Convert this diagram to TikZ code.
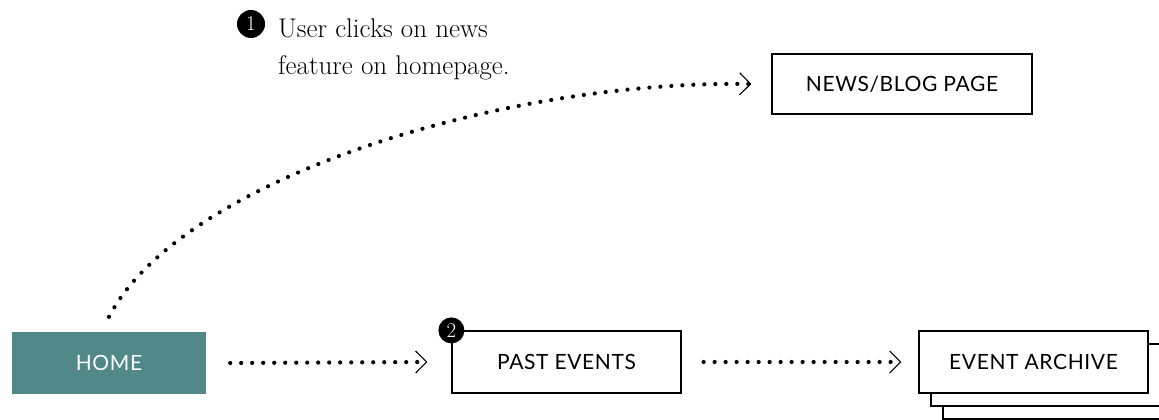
\documentclass[tikz,border=0pt]{standalone}
\usepackage{fontspec}
\newfontfamily\boxfont[LetterSpace=3]{Lato}
\usepackage{tikz}
\usetikzlibrary{arrows.meta,calc}
\definecolor{hometeal}{RGB}{80,137,135}

\begin{document}
\begin{tikzpicture}[x=1pt,y=1pt,
	pagebox/.style={draw=black,line width=1.2pt,fill=white,minimum height=62pt,inner sep=0pt,font=\boxfont\fontsize{21}{24}\selectfont},
	homebox/.style={fill=hometeal,text=white,minimum width=194pt,minimum height=62pt,inner sep=0pt,font=\boxfont\fontsize{21}{24}\selectfont},
	badge/.style={circle,fill=black,text=white,inner sep=0pt,font=\fontsize{21}{21}\selectfont},
	flow/.style={line width=4.2pt,line cap=round,dash pattern=on 0pt off 11pt,-{Straight Barb[length=11pt,width=22pt,line width=1.1pt]}}]

	\useasboundingbox (0,0) rectangle (1159,420);

	% boxes
	\node[homebox] (home) at (109,57) {HOME};
	\node[pagebox,minimum width=229pt] (past) at (566.5,58) {PAST EVENTS};
	\node[pagebox,minimum width=260pt,minimum height=60pt] (news) at (902,336) {NEWS/BLOG PAGE};

	% stacked archive pages
	\coordinate (arc) at (1033.5,58);
	\node[pagebox,minimum width=229pt] (arch3) at ($(arc)+(24,-26)$) {};
	\node[pagebox,minimum width=229pt] (arch2) at ($(arc)+(12,-13)$) {};
	\node[pagebox,minimum width=229pt] (arch) at (arc) {EVENT ARCHIVE};

	% badges
	\node[badge,minimum size=28pt] (b1) at (251,396) {1};
	\node[badge,minimum size=26pt] (b2) at (past.north west) {2};
	\node[anchor=base west,align=left,inner sep=0pt,font=\fontsize{27}{37}\selectfont] (note) at (278,345) {User clicks on news\\feature on homepage.};

	% links
	\coordinate (curvestart) at ($(home.north)+(0,15)$);
	\coordinate (curveend) at ($(news.west)+(-20,0)$);
	\draw[flow] (curvestart) .. controls (180,240) and (500,340) .. (curveend);
	\draw[flow] ($(home.east)+(24,0)$) -- ($(past.west)+(-24,0)$);
	\draw[flow] ($(past.east)+(22,0)$) -- ($(arch.west)+(-17,0)$);

\end{tikzpicture}
\end{document}
